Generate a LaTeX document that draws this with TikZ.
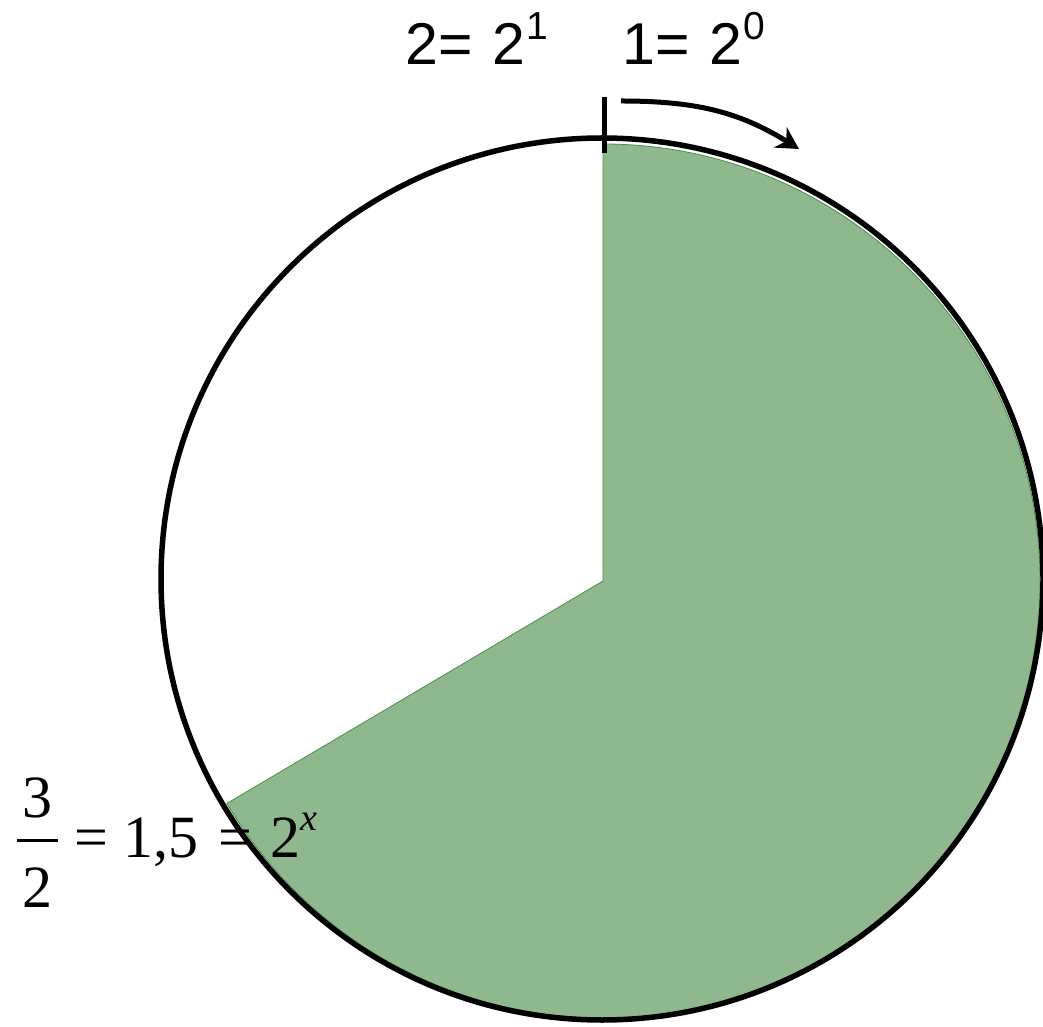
\documentclass[tikz,border=0pt]{standalone}
\usepackage{fontspec}
\setmainfont{Liberation Serif}
\newfontfamily\helv{Liberation Sans}
\usetikzlibrary{arrows.meta}
\definecolor{sectorgreen}{RGB}{143,184,143}
\definecolor{sectoredge}{RGB}{70,145,70}
\tikzset{
  ring/.style={draw=black, line width=5.5pt},
  tickmark/.style={draw=black, line width=5pt},
  turnarrow/.style={draw=black, line width=5pt, -{Stealth[length=22pt,width=24pt]}},
  toplabel/.style={inner sep=0pt, anchor=base west, font=\helv\fontsize{59}{59}\selectfont},
  mathlabel/.style={inner sep=0pt, anchor=base west, font=\fontsize{60}{60}\selectfont},
  fracdigit/.style={inner sep=0pt, anchor=base, font=\fontsize{60}{60}\selectfont}
}
\begin{document}
\begin{tikzpicture}[x=1pt,y=1pt]
\useasboundingbox (0,0) rectangle (1043,1026);
% green sector
\coordinate (gc) at (603,445);
\fill[sectorgreen] (gc) -- ++(90:437) arc[start angle=90, end angle=-149.4, radius=437] -- cycle;
\draw[sectoredge, line width=0.8pt] (gc) -- ++(90:437) arc[start angle=90, end angle=-149.4, radius=437] -- cycle;
% outer circle
\node[ring, circle, minimum size=882pt, inner sep=0pt] (ringc) at (602,447) {};
% tick and arrow
\coordinate (ticktop) at (604,929);
\coordinate (tickbot) at (604,873);
\draw[tickmark] (ticktop) -- (tickbot);
\coordinate (arrstart) at (621,925);
\coordinate (arrend) at (799,877);
\draw[turnarrow] (arrstart) to[out=0, in=148] (arrend);
% top labels
\node[toplabel] (lbltwo) at (405,961) {2=\hspace{20pt}2\hspace{1pt}\raisebox{25pt}{\fontsize{39}{39}\selectfont 1}};
\node[toplabel] (lblone) at (622,961) {1=\hspace{20pt}2\hspace{1pt}\raisebox{25pt}{\fontsize{39}{39}\selectfont 0}};
% fraction label
\node[fracdigit] (num) at (37.5,209) {3};
\node[fracdigit] (den) at (37.5,119) {2};
\coordinate (barl) at (17,186);
\coordinate (barr) at (58,186);
\draw[line width=3pt] (barl) -- (barr);
\node[mathlabel] (lbleq) at (74,169) {=\hspace{15pt}1,5\hspace{20pt}=\hspace{19pt}2\raisebox{27pt}{\fontsize{38}{38}\selectfont\itshape x}};
\end{tikzpicture}
\end{document}
